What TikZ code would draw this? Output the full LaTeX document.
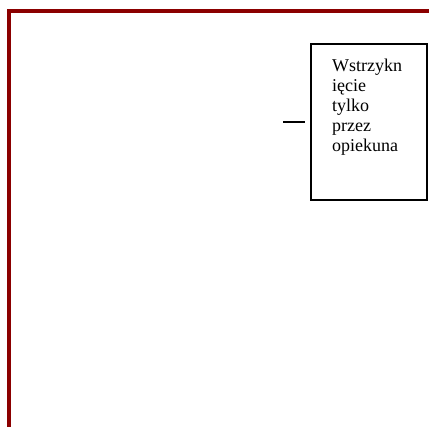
\documentclass[tikz,border=0pt]{standalone}
\usepackage{fontspec}
\setmainfont{Liberation Serif}
\definecolor{frame}{HTML}{8B0000}
\begin{document}
\begin{tikzpicture}[x=1pt,y=-1pt,
  boxst/.style={draw=black, line width=2pt, minimum width=116pt, minimum height=156pt, inner sep=0pt},
  txtst/.style={align=left, inner sep=0pt, font=\fontsize{18}{20}\selectfont}]
\useasboundingbox (0,0) rectangle (429,427);
\coordinate (fb) at (9,427);
\coordinate (fc) at (9,11);
\coordinate (fr) at (429,11);
\draw[line width=4pt, draw=frame] (fb) -- (fc) -- (fr);
\node[boxst, anchor=north west] (box) at (310,43) {};
\node[txtst, anchor=base west] (txt) at (332,152) {Wstrzykn\\ięcie\\tylko\\przez\\opiekuna};
\coordinate (le) at (283,122);
\draw[line width=1.8pt, shorten >=5pt] (le) -- (box.west |- le);
\end{tikzpicture}
\end{document}
